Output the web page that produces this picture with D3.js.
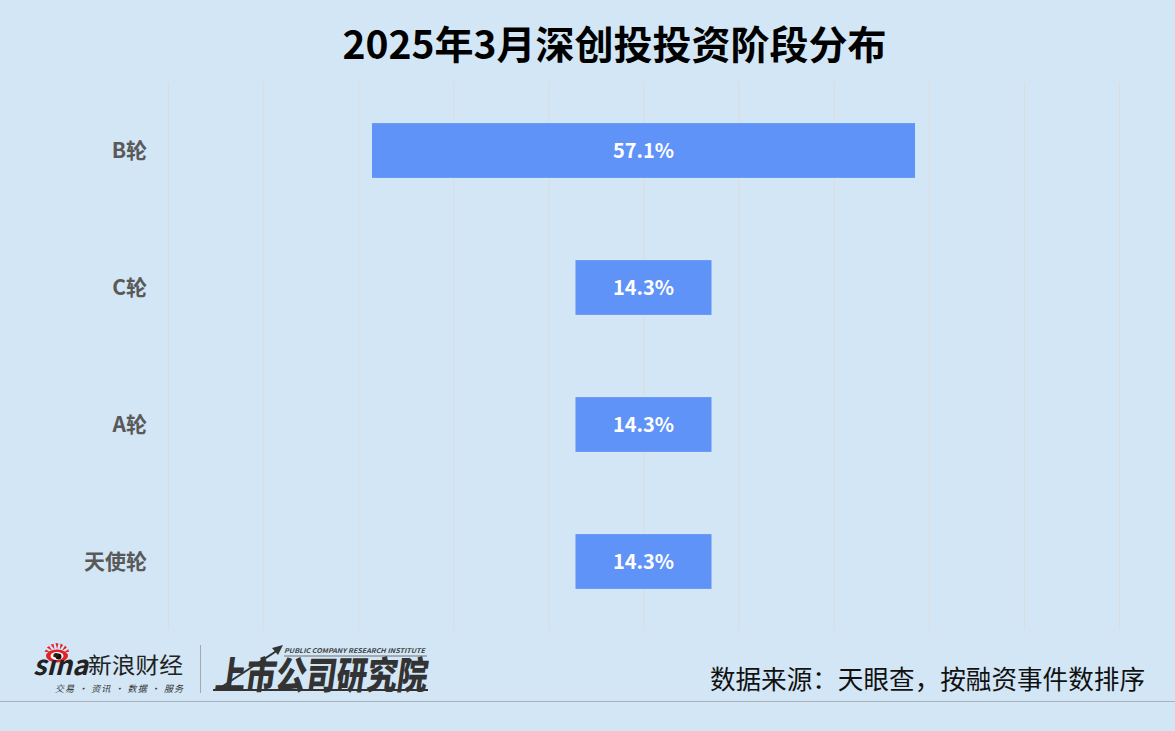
<!DOCTYPE html>
<html><head><meta charset="utf-8">
<script src="https://cdn.jsdelivr.net/npm/d3@7"></script>
<style>
html,body{margin:0;padding:0;background:#d2e6f5;}
svg{display:block;}
text{font-family:"Noto Sans CJK SC","Noto Sans",sans-serif;}
</style></head>
<body>
<svg id="chart" width="1175" height="731"></svg>
<script>
const titleText = "2025年3月深创投投资阶段分布";
const categories = ["B轮", "C轮", "A轮", "天使轮"];
const values = [57.1, 14.3, 14.3, 14.3];
const valueLabels = ["57.1%", "14.3%", "14.3%", "14.3%"];
const gridTicks = [-50, -40, -30, -20, -10, 0, 10, 20, 30, 40, 50];
const sourceText = "数据来源：天眼查，按融资事件数排序";

const svg = d3.select("#chart");
const W = 1175, H = 731;
svg.append("rect").attr("width", W).attr("height", H).attr("fill", "#d2e6f5");

const x = d3.scaleLinear().domain([-50, 50]).range([168, 1119]);
const y = d3.scaleBand().domain(categories).range([82, 630]).paddingInner(0.6).paddingOuter(0.3);

// grid
svg.append("g").selectAll("line").data(gridTicks).join("line")
  .attr("x1", d => x(d) + 0.5).attr("x2", d => x(d) + 0.5)
  .attr("y1", 82).attr("y2", 630)
  .attr("stroke", "#dcdcdc").attr("stroke-width", 1);

// title
svg.append("text").attr("x", 614.5).attr("y", 59).attr("text-anchor", "middle")
  .attr("font-size", 39).attr("font-weight", 700).attr("fill", "#000").text(titleText);

// bars
const data = categories.map((c, i) => ({c, v: values[i], l: valueLabels[i]}));
svg.append("g").selectAll("rect").data(data).join("rect")
  .attr("x", d => x(-d.v / 2)).attr("width", d => x(d.v / 2) - x(-d.v / 2))
  .attr("y", d => y(d.c)).attr("height", y.bandwidth())
  .attr("fill", "#6093f7");

svg.append("g").selectAll("text").data(data).join("text")
  .attr("x", x(0)).attr("y", d => y(d.c) + y.bandwidth() / 2)
  .attr("dy", "0.35em").attr("text-anchor", "middle")
  .attr("font-size", 20).attr("font-weight", 700).attr("fill", "#fff")
  .text(d => d.l);

// category labels
svg.append("g").selectAll("text").data(categories).join("text")
  .attr("x", 147).attr("y", d => y(d) + y.bandwidth() / 2)
  .attr("dy", "0.35em").attr("text-anchor", "end")
  .attr("font-size", 21).attr("font-weight", 700).attr("fill", "#595959")
  .text(d => d);

// footer line
svg.append("line").attr("x1", 0).attr("x2", W).attr("y1", 701.5).attr("y2", 701.5)
  .attr("stroke", "#a9b1ba").attr("stroke-width", 1.2);

// source
svg.append("text").attr("x", 1145).attr("y", 689).attr("text-anchor", "end")
  .attr("font-size", 25.6).attr("fill", "#111").text(sourceText);

// sina logo
const lg = svg.append("g");
const eyeCx = 57, eyeCy = 655;
for (let i = 0; i < 7; i++) {
  const a = -Math.PI * (0.12 + i * 0.125);
  lg.append("path")
    .attr("d", `M${eyeCx + Math.cos(a) * 7},${eyeCy + Math.sin(a) * 6} L${eyeCx + Math.cos(a - 0.13) * 13},${eyeCy + Math.sin(a - 0.13) * 12} L${eyeCx + Math.cos(a + 0.1) * 12.5},${eyeCy + Math.sin(a + 0.1) * 11.5}Z`)
    .attr("fill", "#e3202a");
}
lg.append("ellipse").attr("cx", eyeCx).attr("cy", eyeCy + 1).attr("rx", 11).attr("ry", 6.5).attr("fill", "#e3202a");
lg.append("ellipse").attr("cx", eyeCx).attr("cy", eyeCy + 1).attr("rx", 6.5).attr("ry", 4).attr("fill", "#fff");
lg.append("circle").attr("cx", eyeCx + 1.5).attr("cy", eyeCy + 1.5).attr("r", 3).attr("fill", "#111");
lg.append("text").attr("x", 33).attr("y", 675).attr("font-size", 27).attr("font-weight", 700)
  .attr("font-style", "italic").attr("font-family", "DejaVu Sans").attr("fill", "#222")
  .attr("textLength", 55).attr("lengthAdjust", "spacingAndGlyphs").text("sina");
lg.append("text").attr("x", 88).attr("y", 673).attr("font-size", 22).attr("fill", "#222")
  .attr("textLength", 95).attr("lengthAdjust", "spacingAndGlyphs").text("新浪财经");
lg.append("text").attr("x", 55).attr("y", 692).attr("font-size", 9).attr("fill", "#333")
  .attr("font-style", "italic").attr("textLength", 128).attr("lengthAdjust", "spacing")
  .text("交易 · 资讯 · 数据 · 服务");
lg.append("line").attr("x1", 200.5).attr("x2", 200.5).attr("y1", 645).attr("y2", 693)
  .attr("stroke", "#a9a9a9").attr("stroke-width", 1);

// institute logo
const ig = svg.append("g");
ig.append("text").attr("x", 214).attr("y", 689).attr("font-size", 38).attr("font-weight", 900)
  .attr("fill", "#333")
  .attr("textLength", 212).attr("lengthAdjust", "spacingAndGlyphs")
  .attr("transform", "skewX(-8) translate(96.8,0)").text("上市公司研究院");
ig.append("line").attr("x1", 213).attr("x2", 428).attr("y1", 690).attr("y2", 690)
  .attr("stroke", "#333").attr("stroke-width", 2);
ig.append("line").attr("x1", 220).attr("x2", 278).attr("y1", 688).attr("y2", 650)
  .attr("stroke", "#333").attr("stroke-width", 2);
ig.append("path").attr("d", "M283,645 L272,648 L278,655 Z").attr("fill", "#333");
ig.append("text").attr("x", 284).attr("y", 653).attr("font-size", 6.5).attr("font-weight", 700)
  .attr("font-style", "italic").attr("font-family", "DejaVu Sans").attr("fill", "#444")
  .attr("textLength", 141).attr("lengthAdjust", "spacingAndGlyphs")
  .text("PUBLIC COMPANY RESEARCH INSTITUTE");
ig.append("line").attr("x1", 284).attr("x2", 427).attr("y1", 656).attr("y2", 656)
  .attr("stroke", "#555").attr("stroke-width", 0.8);
</script>
</body></html>
